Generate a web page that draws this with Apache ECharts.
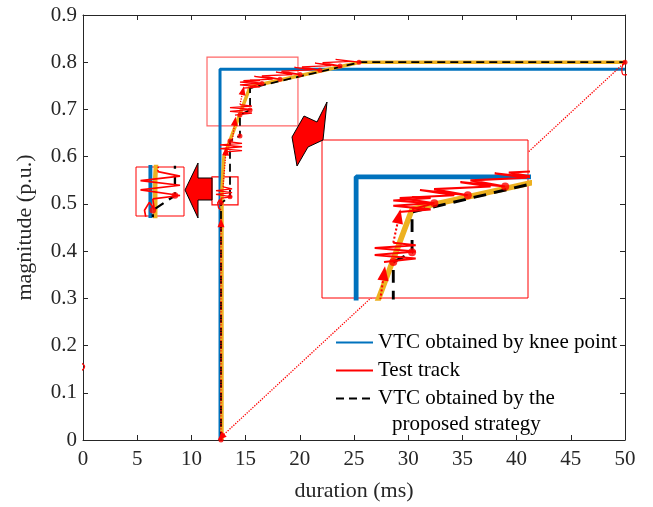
<!DOCTYPE html>
<html>
<head>
<meta charset="utf-8">
<script src="https://cdn.jsdelivr.net/npm/echarts@6/dist/echarts.min.js"></script>
<style>
html, body { margin: 0; padding: 0; background: #fff; }
#chart { width: 653px; height: 507px; }
</style>
</head>
<body>
<div id="chart"></div>
<script>
// ---- data (x: duration in ms, y: magnitude in p.u.) ----
var xRange = [0, 50];
var yRange = [0, 0.9];
var inset1X = [10.95, 21.15];
var inset1Y = [0.647, 0.827];
var inset2X = [12.1, 13.9];
var inset2Y = [0.497, 0.54];

var kneeVTC = [[12.64, 0], [12.64, 0.785], [50, 0.785]];
var proposedVTC = [[12.73, 0], [12.73, 0.502], [13.56, 0.515], [13.56, 0.633], [14.48, 0.644],
    [14.48, 0.688], [15.41, 0.699], [15.41, 0.745], [25.55, 0.8], [50, 0.8]];
var fitPath = [[12.82, 0], [12.82, 0.53], [13.0, 0.6], [15.41, 0.748], [25.55, 0.8], [50, 0.8]];

// test track, drawn piece by piece (zigzags at each step)
var curlA = [[12.73, 0.487], [12.5, 0.492], [12.42, 0.502], [12.6, 0.509], [12.78, 0.503], [12.73, 0.512]];
var blockA = [[12.73, 0.512], [13.75, 0.515], [12.27, 0.52], [13.75, 0.524], [12.27, 0.528], [13.75, 0.532], [12.92, 0.536]];
var blockB = [[13.19, 0.61], [14.67, 0.613], [12.64, 0.617], [14.67, 0.621], [12.64, 0.625], [14.67, 0.628], [13.75, 0.631]];
var blockC = [[14.02, 0.688], [15.59, 0.692], [13.56, 0.696], [15.59, 0.7], [13.56, 0.704], [15.59, 0.707], [14.48, 0.71]];
var blockD = [[14.76, 0.745], [16.33, 0.748], [14.48, 0.752], [16.33, 0.755], [14.48, 0.758], [16.33, 0.761], [15.41, 0.762]];
var slopeZig = [[15.41, 0.748], [16.51, 0.755], [14.8, 0.761], [17.5, 0.764], [15.8, 0.77], [18.17, 0.764],
    [16.5, 0.771], [19.3, 0.774], [17.8, 0.779], [20.02, 0.774], [18.3, 0.781], [21.1, 0.784], [19.5, 0.789],
    [21.86, 0.783], [20.2, 0.79], [22.9, 0.793], [21.4, 0.798], [23.71, 0.792], [22.1, 0.799], [24.7, 0.802],
    [23.3, 0.806], [25.46, 0.8]];
var trackBlocks = [curlA, blockA, blockB, blockC, blockD, slopeZig];

// dotted jumps of the test track (arrow at the second point)
var arrowSegs = [
    [[12.73, 0.0], [12.73, 0.46]],
    [[12.92, 0.536], [13.19, 0.612]],
    [[13.75, 0.631], [14.02, 0.675]],
    [[14.48, 0.71], [14.76, 0.74]],
    [[50, 0.8], [12.73, 0.006]]
];
var trackDots = [[12.73, 0], [12.73, 0.502], [13.56, 0.515], [13.56, 0.633], [14.48, 0.644], [14.48, 0.688],
    [15.41, 0.699], [16.51, 0.755], [18.17, 0.764], [20.02, 0.774], [21.86, 0.783], [23.71, 0.792],
    [25.46, 0.8], [50, 0.8]];
var rightCurl = [[50, 0.8], [49.7, 0.786], [49.9, 0.773], [50.4, 0.775]];
var leftCurl = [[-0.15, 0.163], [0.15, 0.155], [-0.15, 0.147]];

var FONT = 'Liberation Serif';
var AXC = '#262626';

var gridBox = [
    { left: 83, top: 15, width: 542, height: 425, x: xRange, y: yRange },
    { left: 322, top: 140, width: 206, height: 158, x: inset1X, y: inset1Y },
    { left: 136, top: 167, width: 48, height: 49, x: inset2X, y: inset2Y }
];

var series = [];

function arrowRot(g, a, b) {
    var sx = g.width / (g.x[1] - g.x[0]);
    var sy = g.height / (g.y[1] - g.y[0]);
    return Math.atan2(-(b[0] - a[0]) * sx, (b[1] - a[1]) * sy) * 180 / Math.PI;
}

function addLayer(gi, k, z0) {
    var main = gi === 0;
    var g = gridBox[gi];
    function s(o) {
        o.xAxisIndex = gi;
        o.yAxisIndex = gi;
        o.animation = false;
        series.push(o);
    }
    var knee = {
        type: 'line', name: main ? 'VTC obtained by knee point' : 'knee' + gi, data: kneeVTC, symbol: 'none',
        itemStyle: { color: '#0072BD' }, lineStyle: { color: '#0072BD', width: 3 * k }, z: z0
    };
    if (main) {
        knee.markArea = {
            silent: true,
            itemStyle: { color: 'rgba(0,0,0,0)', borderColor: 'rgba(255,0,0,0.6)', borderWidth: 1.2 },
            data: [
                [{ coord: [11.44, 0.811] }, { coord: [19.83, 0.665] }],
                [{ coord: [11.9, 0.557], itemStyle: { borderColor: '#ff0000' } }, { coord: [14.3, 0.498] }]
            ]
        };
    }
    s(knee);
    s({ type: 'line', name: 'fit' + gi, data: fitPath, symbol: 'none',
        lineStyle: { color: '#EDB120', width: 3.5 * k }, z: z0 + 1 });
    s({ type: 'line', name: main ? 'VTC obtained by the proposed strategy' : 'prop' + gi, data: proposedVTC,
        symbol: 'none', itemStyle: { color: '#000' },
        lineStyle: { color: '#000', width: 1.8 * k, type: [8 * k, 5 * k] }, z: z0 + 2 });
    trackBlocks.forEach(function (b) {
        s({ type: 'line', name: main ? 'Test track' : 'track' + gi, data: b, symbol: 'none',
            itemStyle: { color: '#ff0000' }, lineStyle: { color: '#ff0000', width: 1.3 * k }, z: z0 + 3 });
    });
    arrowSegs.forEach(function (seg) {
        s({ type: 'line', name: 'jump' + gi, showSymbol: true,
            data: [
                { value: seg[0], symbol: 'none' },
                { value: seg[1], symbol: 'triangle', symbolSize: [7 * k, 9 * k], symbolRotate: arrowRot(g, seg[0], seg[1]) }
            ],
            itemStyle: { color: '#ff0000' },
            lineStyle: { color: '#ff0000', width: 1.3 * k, type: 'dotted' }, z: z0 + 3 });
    });
    s({ type: 'scatter', name: 'dots' + gi, data: trackDots, symbolSize: 5 * k,
        itemStyle: { color: '#ff0000' }, z: z0 + 4 });
}

addLayer(0, 1, 2);
addLayer(1, 1.6, 11);
addLayer(2, 1.3, 21);

// little loops of the test track at the axis edges
[rightCurl, leftCurl].forEach(function (c, i) {
    series.push({ type: 'line', name: 'curl' + i, data: c, smooth: true, clip: false, animation: false,
        symbol: 'none', lineStyle: { color: '#ff0000', width: 1.2 }, z: 5 });
});

function mainX(pos, withLabel) {
    return {
        gridIndex: 0, type: 'value', position: pos, min: xRange[0], max: xRange[1], interval: 5,
        axisLine: { onZero: false, lineStyle: { color: AXC } },
        axisTick: { inside: true, length: 5, lineStyle: { color: AXC } },
        axisLabel: { show: withLabel, fontFamily: FONT, fontSize: 21, color: AXC, margin: 9 },
        splitLine: { show: false },
        name: withLabel ? 'duration (ms)' : '', nameLocation: 'middle', nameGap: 40,
        nameTextStyle: { fontFamily: FONT, fontSize: 22, color: AXC }
    };
}
function mainY(pos, withLabel) {
    return {
        gridIndex: 0, type: 'value', position: pos, min: yRange[0], max: yRange[1], interval: 0.1,
        axisLine: { onZero: false, lineStyle: { color: AXC } },
        axisTick: { inside: true, length: 5, lineStyle: { color: AXC } },
        axisLabel: { show: withLabel, fontFamily: FONT, fontSize: 21, color: AXC, margin: 6 },
        splitLine: { show: false },
        name: withLabel ? 'magnitude (p.u.)' : '', nameLocation: 'middle', nameGap: 47,
        nameTextStyle: { fontFamily: FONT, fontSize: 22, color: AXC }
    };
}
function insetAxis(gi, r) {
    return { gridIndex: gi, type: 'value', min: r[0], max: r[1], show: false };
}

var chart = echarts.init(document.getElementById('chart'));
chart.setOption({
    backgroundColor: '#fff',
    animation: false,
    grid: [
        { left: 83, top: 15, width: 542, height: 425 },
        { left: 322, top: 140, width: 206, height: 158, show: true, backgroundColor: '#fff',
          borderColor: '#ff0000', borderWidth: 1, z: 10 },
        { left: 136, top: 167, width: 48, height: 49, show: true, backgroundColor: '#fff',
          borderColor: '#ff0000', borderWidth: 1, z: 20 }
    ],
    xAxis: [mainX('bottom', true), insetAxis(1, inset1X), insetAxis(2, inset2X), mainX('top', false)],
    yAxis: [mainY('left', true), insetAxis(1, inset1Y), insetAxis(2, inset2Y), mainY('right', false)],
    legend: {
        orient: 'vertical', left: 330, top: 327, itemWidth: 37, itemHeight: 14, itemGap: 7,
        data: ['VTC obtained by knee point', 'Test track', 'VTC obtained by the proposed strategy'],
        formatter: function (n) { return n === 'VTC obtained by the proposed strategy' ? 'VTC obtained by the' : n; },
        itemStyle: { opacity: 0 },
        textStyle: { fontFamily: FONT, fontSize: 21, color: '#000' },
        selectedMode: false
    },
    graphic: [
        { type: 'polygon', z: 100,
          shape: { points: [[212, 178], [198, 178], [198, 163], [185, 190], [198, 218], [198, 200], [212, 200]] },
          style: { fill: '#ff0000', stroke: '#000', lineWidth: 1 } },
        { type: 'polygon', z: 100,
          shape: { points: [[327, 102], [323, 140], [308, 147], [297, 166], [292, 137], [304, 116], [317, 122]] },
          style: { fill: '#ff0000', stroke: '#000', lineWidth: 1 } },
        { type: 'text', left: 392, top: 414, z: 100,
          style: { text: 'proposed strategy', font: '21px "Liberation Serif"', fill: '#000' } }
    ],
    series: series
});
</script>
</body>
</html>
